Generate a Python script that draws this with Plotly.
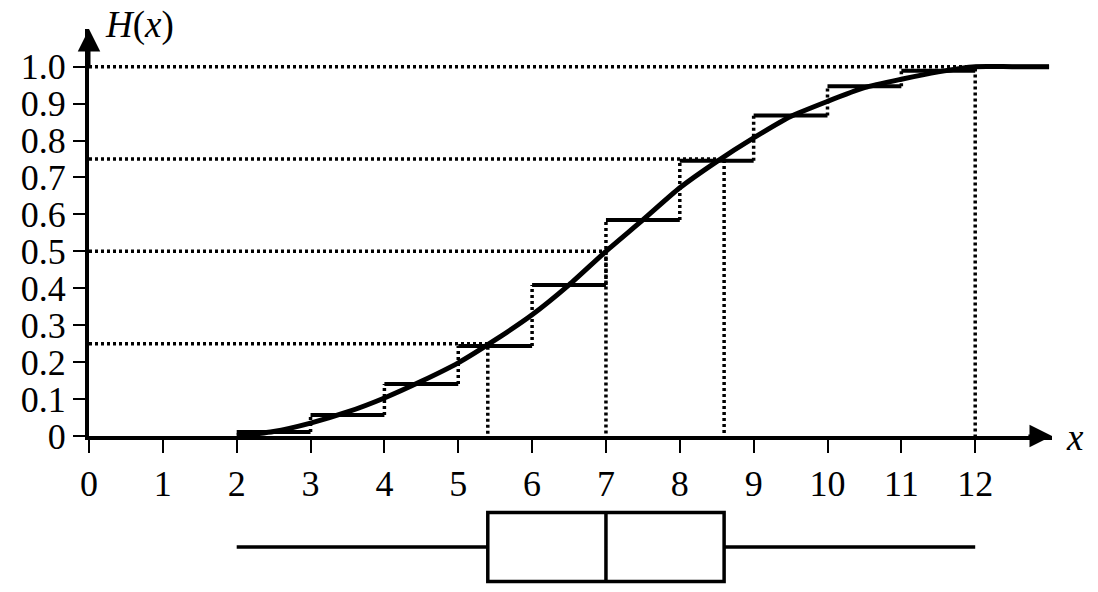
import plotly.graph_objects as go

# ---- data ----
step_x = [2, 3, 4, 5, 6, 7, 8, 9, 10, 11, 12]
step_end = 13
step_levels = [0.011, 0.057, 0.141, 0.244, 0.409, 0.585, 0.745, 0.868, 0.947, 0.989, 1.0]

curve_x = [2, 2.5, 3, 3.5, 4, 4.5, 5, 5.5, 6, 6.5, 7, 7.5, 8, 8.5, 9, 9.5, 10, 10.5, 11, 11.5, 12, 12.5, 13]
curve_y = [0, 0.012, 0.035, 0.065, 0.103, 0.148, 0.198, 0.26, 0.328, 0.409, 0.5, 0.585, 0.672, 0.743,
           0.807, 0.865, 0.906, 0.943, 0.966, 0.986, 1.0, 1.0, 1.0]

quant_p = [0.25, 0.5, 0.75, 1.0]
quant_x = [5.4, 7.0, 8.6, 12.0]

box_min, box_q1, box_med, box_q3, box_max = 2, 5.4, 7, 8.6, 12

x_ticks = list(range(0, 13))
y_ticks = [0, 0.1, 0.2, 0.3, 0.4, 0.5, 0.6, 0.7, 0.8, 0.9, 1.0]
y_ticktext = ["0", "0.1", "0.2", "0.3", "0.4", "0.5", "0.6", "0.7", "0.8", "0.9", "1.0"]

FONT = "Liberation Serif"
DOT = "3px,3px"

fig = go.Figure()

# dotted quantile guides
qx, qy = [], []
for p, xv in zip(quant_p, quant_x):
    qx += [0, xv, xv, None]
    qy += [p, p, 0, None]
fig.add_trace(go.Scatter(x=qx, y=qy, mode="lines",
                         line=dict(color="black", width=3.5, dash=DOT), hoverinfo="skip"))

# dotted jumps of step function
jx, jy = [], []
for i in range(1, len(step_x)):
    jx += [step_x[i], step_x[i], None]
    jy += [step_levels[i - 1], step_levels[i], None]
fig.add_trace(go.Scatter(x=jx, y=jy, mode="lines",
                         line=dict(color="black", width=3.5, dash=DOT), hoverinfo="skip"))

# step segments
sx, sy = [], []
ends = step_x[1:] + [step_end]
for a, b, v in zip(step_x, ends, step_levels):
    sx += [a, b, None]
    sy += [v, v, None]
fig.add_trace(go.Scatter(x=sx, y=sy, mode="lines",
                         line=dict(color="black", width=4), hoverinfo="skip"))

# smooth curve
fig.add_trace(go.Scatter(x=curve_x, y=curve_y, mode="lines",
                         line=dict(color="black", width=5, shape="spline", smoothing=0.6),
                         hoverinfo="skip"))

# box plot
fig.add_trace(go.Box(y=[0], q1=[box_q1], median=[box_med], q3=[box_q3],
                     lowerfence=[box_min], upperfence=[box_max],
                     orientation="h", width=0.613, whiskerwidth=0,
                     fillcolor="white", line=dict(color="black", width=3.5),
                     boxpoints=False, xaxis="x", yaxis="y2", hoverinfo="skip"))

fig.update_layout(
    template="none",
    width=1098, height=592,
    margin=dict(l=89, r=46, t=29, b=0, pad=0),
    paper_bgcolor="white", plot_bgcolor="white",
    showlegend=False, hovermode=False,
    font=dict(family=FONT, color="black", size=36),
    xaxis=dict(range=[0, 13.04], showline=True, linewidth=4, linecolor="black",
               ticks="outside", ticklen=13, tickwidth=1.5, tickcolor="black",
               tickvals=x_ticks, showgrid=False, zeroline=False, anchor="y",
               automargin=False, tickfont=dict(family=FONT, size=36, color="black")),
    yaxis=dict(domain=[0.2771, 1], range=[0, 1.102], showline=True, linewidth=4,
               linecolor="black", ticks="outside", ticklen=12, tickwidth=1.5,
               tickcolor="black", tickvals=y_ticks, ticktext=y_ticktext,
               showgrid=False, zeroline=False, automargin=False,
               tickfont=dict(family=FONT, size=36, color="black")),
    yaxis2=dict(domain=[0, 0.2], range=[-0.3996, 0.6004], visible=False,
                anchor="x", showgrid=False, zeroline=False, automargin=False),
)

# axis arrows
fig.add_annotation(x=13.04, y=0, ax=12.7, ay=0, xref="x", yref="y", axref="x", ayref="y",
                   text="", showarrow=True, arrowhead=2, arrowsize=1.5, arrowwidth=3,
                   arrowcolor="black")
fig.add_annotation(x=0, y=1.102, ax=0, ay=1.0, xref="x", yref="y", axref="x", ayref="y",
                   text="", showarrow=True, arrowhead=2, arrowsize=1.5, arrowwidth=3,
                   arrowcolor="black")

# axis titles
fig.add_annotation(x=0, y=1.102, xref="x", yref="y", xanchor="left", yanchor="middle",
                   xshift=14, yshift=4, text="<i>H</i>(<i>x</i>)", showarrow=False,
                   font=dict(family=FONT, size=37, color="black"))
fig.add_annotation(x=13.04, y=0, xref="x", yref="y", xanchor="left", yanchor="middle",
                   xshift=12, yshift=-2, text="<i>x</i>", showarrow=False,
                   font=dict(family=FONT, size=37, color="black"))

fig.write_html("out.html")
